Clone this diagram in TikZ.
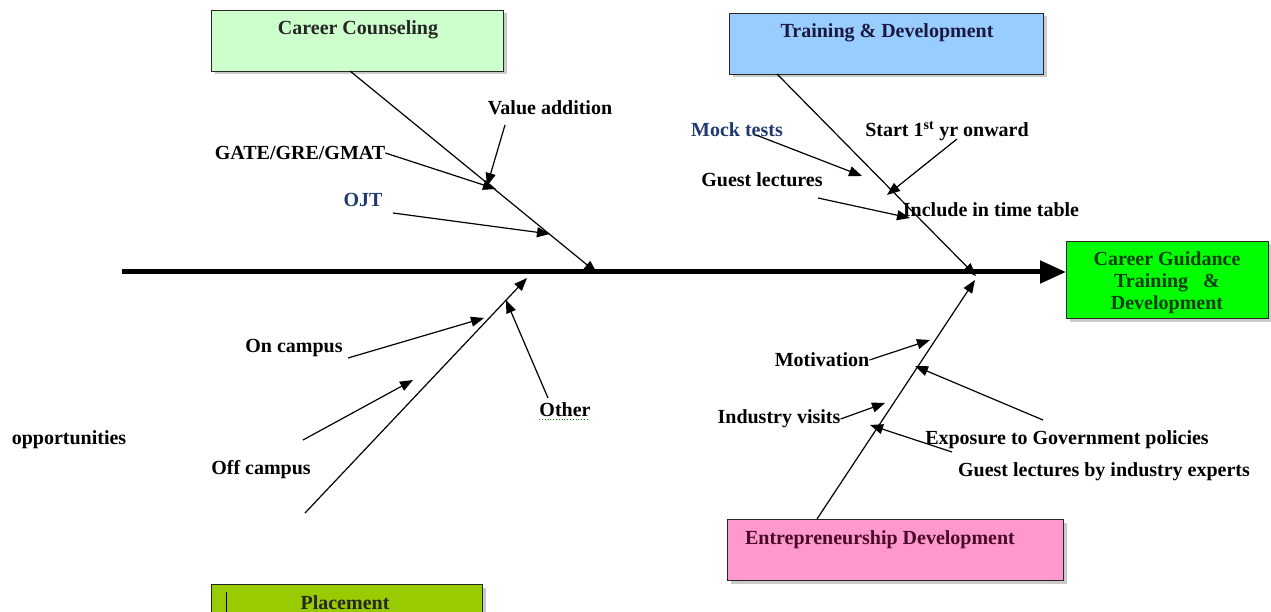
\documentclass[tikz,border=0pt]{standalone}
\usepackage{fontspec}
\setmainfont{Liberation Serif}
\usetikzlibrary{arrows.meta,shadows}
\definecolor{ccfill}{HTML}{CCFFCC}
\definecolor{tdfill}{HTML}{99CCFF}
\definecolor{cgfill}{HTML}{00FF00}
\definecolor{edfill}{HTML}{FF99CC}
\definecolor{plfill}{HTML}{99CC00}
\definecolor{bluetxt}{HTML}{1F3A6E}
\definecolor{cgtxt}{HTML}{0B3D0B}
\definecolor{edtxt}{HTML}{4A0A2A}
\definecolor{tdtxt}{HTML}{1A1A40}
\tikzset{
  lbl/.style={font=\bfseries\fontsize{20}{22}\selectfont, inner sep=0pt},
  boxnode/.style={draw=black!85, line width=1pt, anchor=north west, inner sep=0pt,
    drop shadow={shadow xshift=3pt, shadow yshift=-3pt, fill=black!35, opacity=0.6}},
  bone/.style={line width=1.2pt, -{Triangle[length=13pt,width=10pt]}},
  spine/.style={line width=5pt, -{Triangle[length=26pt,width=22pt]}}
}
\begin{document}
\begin{tikzpicture}[x=1pt,y=-1pt]
\useasboundingbox (0,0) rectangle (1271,612);
% boxes
\node[boxnode, fill=ccfill, minimum width=292pt, minimum height=61pt] (cc) at (211,10) {};
\node[lbl, text=black!85] (cct) at (358,30) {Career Counseling};
\node[boxnode, fill=tdfill, minimum width=314pt, minimum height=61pt] (td) at (729,13) {};
\node[lbl, text=tdtxt] (tdt) at (887,33) {Training \& Development};
\node[boxnode, fill=cgfill, minimum width=202pt, minimum height=77pt] (cg) at (1066,241) {};
\node[lbl, text=cgtxt, align=center] (cgt) at (1167,283) {Career Guidance\\Training \ \ \&\\Development};
\node[boxnode, fill=edfill, minimum width=336pt, minimum height=61pt] (ed) at (727,519) {};
\node[lbl, text=edtxt] (edt) at (880,540) {Entrepreneurship Development};
\node[boxnode, fill=plfill, minimum width=271pt, minimum height=40pt] (pl) at (211,584) {};
\node[lbl, text=black!85] (plt) at (345,603) {Placement};
\draw[line width=1pt] (226,592) -- (226,612);
% spine
\coordinate (spL) at (122,272);
\draw[spine] (spL) -- (spL -| cg.west);
% main bones
\coordinate (ccB) at (350,71);   \coordinate (ccE) at (597,273);
\coordinate (tdB) at (777,74);   \coordinate (tdE) at (976,276);
\coordinate (plB) at (305,513);  \coordinate (plE) at (527,278);
\coordinate (edB) at (817,519);  \coordinate (edE) at (975,280);
\draw[bone] (ccB) -- (ccE);
\draw[bone] (tdB) -- (tdE);
\draw[bone] (plB) -- (plE);
\draw[bone] (edB) -- (edE);
% Career counseling sub causes
\node[lbl] (gate) at (300,153) {GATE/GRE/GMAT};
\coordinate (gateE) at (496,189);
\draw[bone] (gate.east) -- (gateE);
\node[lbl] (va) at (550,108) {Value addition};
\coordinate (vaS) at (505,125); \coordinate (vaE) at (487,186);
\draw[bone] (vaS) -- (vaE);
\node[lbl, text=bluetxt] (ojt) at (363,200) {OJT};
\coordinate (ojtS) at (393,213); \coordinate (ojtE) at (550,234);
\draw[bone] (ojtS) -- (ojtE);
% Placement sub causes
\node[lbl] (onc) at (294,348) {On campus};
\coordinate (oncS) at (348,358); \coordinate (oncE) at (484,318);
\draw[bone] (oncS) -- (oncE);
\node[lbl] (offc) at (261,470) {Off campus};
\coordinate (offS) at (303,440); \coordinate (offE) at (413,380);
\draw[bone] (offS) -- (offE);
\node[lbl] (oth) at (565,410) {Other};
\draw[green!50!black, line width=0.8pt, dotted] (oth.south west) ++(0,2) -- ++(50,0);
\coordinate (othS) at (548,398); \coordinate (othE) at (506,300);
\draw[bone] (othS) -- (othE);
\node[lbl] (opp) at (69,440) {opportunities};
% Training sub causes
\node[lbl, text=bluetxt] (mock) at (737,130) {Mock tests};
\coordinate (mockS) at (756,135); \coordinate (mockE) at (862,176);
\draw[bone] (mockS) -- (mockE);
\node[lbl] (start) at (947,131) {Start 1\textsuperscript{st} yr onward};
\coordinate (startS) at (957,139); \coordinate (startE) at (887,195);
\draw[bone] (startS) -- (startE);
\node[lbl] (gl) at (762,180) {Guest lectures};
\coordinate (glS) at (818,198); \coordinate (glE) at (910,218);
\draw[bone] (glS) -- (glE);
\node[lbl] (itt) at (991,210) {Include in time table};
% Entrepreneurship sub causes
\node[lbl] (mot) at (822,360) {Motivation};
\coordinate (motE) at (930,340);
\draw[bone] (mot.east) -- (motE);
\node[lbl] (exp) at (1067,440) {Exposure to Government policies};
\coordinate (expS) at (1043,420); \coordinate (expE) at (915,366);
\draw[bone] (expS) -- (expE);
\node[lbl] (iv) at (779,419) {Industry visits};
\coordinate (ivE) at (885,403);
\draw[bone] (iv.east) -- (ivE);
\node[lbl] (glie) at (1104,472) {Guest lectures by industry experts};
\coordinate (glieS) at (952,452); \coordinate (glieE) at (870,425);
\draw[bone] (glieS) -- (glieE);
\end{tikzpicture}
\end{document}
